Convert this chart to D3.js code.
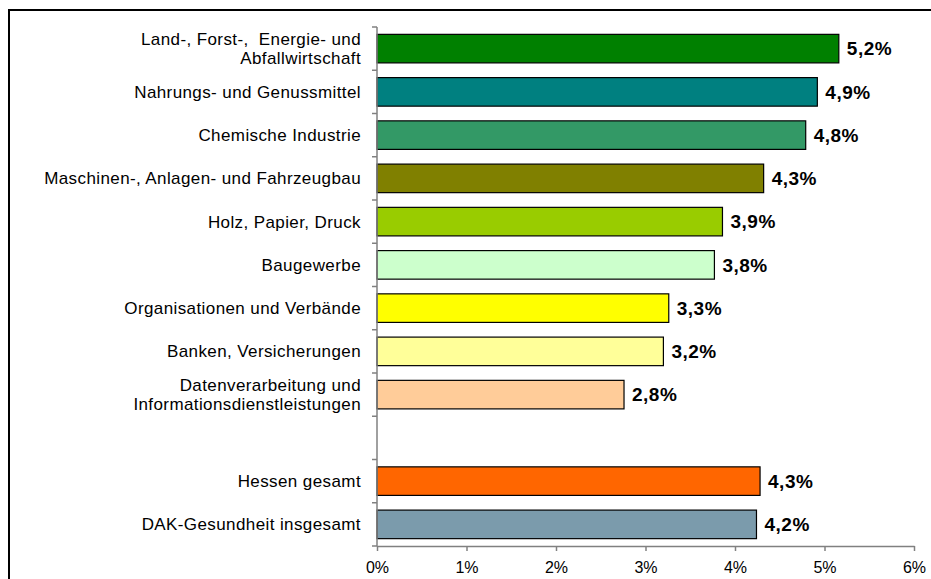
<!DOCTYPE html>
<html>
<head>
<meta charset="utf-8">
<script src="https://cdn.jsdelivr.net/npm/d3@7"></script>
<style>
  body { margin: 0; background: #fff; }
  svg { display: block; font-family: Arial, "Liberation Sans", sans-serif; }
</style>
</head>
<body>
<div id="chart"></div>
<script>
// Branchen, letzter Block: Hessen + DAK gesamt (leere Zeile dazwischen)
var categories = [
  "Land-, Forst-,  Energie- und\nAbfallwirtschaft",
  "Nahrungs- und Genussmittel",
  "Chemische Industrie",
  "Maschinen-, Anlagen- und Fahrzeugbau",
  "Holz, Papier, Druck",
  "Baugewerbe",
  "Organisationen und Verbände",
  "Banken, Versicherungen",
  "Datenverarbeitung und\nInformationsdienstleistungen",
  "",
  "Hessen gesamt",
  "DAK-Gesundheit insgesamt"
];
var values = [5.16, 4.92, 4.79, 4.32, 3.86, 3.77, 3.26, 3.2, 2.76, null, 4.28, 4.24];
var colors = ["#008000", "#008080", "#339966", "#808000", "#99cc00", "#ccffcc",
  "#ffff00", "#ffff99", "#ffcc99", "none", "#ff6600", "#7b9bac"];
var xTicks = [0, 1, 2, 3, 4, 5, 6];

var width = 931, height = 579;
var plotLeft = 377, plotRight = 914, plotTop = 27, plotBottom = 546;
var padInner = 0.34;

var rows = categories.map(function(c, i) {
  return { id: i, label: c, value: values[i], color: colors[i] };
});

var svg = d3.select("#chart").append("svg")
  .attr("width", width)
  .attr("height", height);

// Rahmen (rechts/unten abgeschnitten)
svg.append("rect")
  .attr("x", 9).attr("y", 10)
  .attr("width", 1000).attr("height", 1000)
  .attr("fill", "none")
  .attr("stroke", "#000")
  .attr("stroke-width", 2);

var x = d3.scaleLinear().domain([0, 6]).range([plotLeft, plotRight]);
var y = d3.scaleBand()
  .domain(rows.map(function(d) { return d.id; }))
  .range([plotTop, plotBottom])
  .paddingInner(padInner)
  .paddingOuter(padInner / 2);

var fmt = d3.formatLocale({ decimal: ",", thousands: ".", grouping: [3], currency: ["", "€"] }).format(".1f");

// Balken
var data = rows.filter(function(d) { return d.value != null; });
svg.append("g").attr("class", "bars")
  .selectAll("rect")
  .data(data)
  .enter()
  .append("rect")
  .attr("x", x(0))
  .attr("y", function(d) { return y(d.id); })
  .attr("width", function(d) { return x(d.value) - x(0); })
  .attr("height", y.bandwidth())
  .attr("fill", function(d) { return d.color; })
  .attr("stroke", "#000")
  .attr("stroke-width", 1.2);

// Werte
svg.append("g").attr("class", "values")
  .selectAll("text")
  .data(data)
  .enter()
  .append("text")
  .attr("x", function(d) { return x(d.value) + 8; })
  .attr("y", function(d) { return y(d.id) + y.bandwidth() / 2; })
  .attr("dy", "0.36em")
  .style("font-size", "19px")
  .style("letter-spacing", "0.5px")
  .style("font-weight", "bold")
  .text(function(d) { return fmt(d.value) + "%"; });

// x-Achse
var xAxis = d3.axisBottom(x)
  .tickValues(xTicks)
  .tickFormat(function(d) { return d + "%"; })
  .tickSize(5)
  .tickSizeOuter(0)
  .tickPadding(11);

var gx = svg.append("g")
  .attr("transform", "translate(0," + plotBottom + ")")
  .call(xAxis);
gx.select(".domain").attr("stroke", "#808080").attr("stroke-width", 1.5);
gx.selectAll(".tick line").attr("stroke", "#808080").attr("stroke-width", 1.5);
gx.selectAll(".tick text")
  .attr("fill", "#000")
  .style("font-size", "16px")
  .style("font-family", "Arial, 'Liberation Sans', sans-serif");

// y-Achse mit Strichen an den Kategoriegrenzen
var step = y.step();
var bounds = rows.map(function(d) { return y(d.id) - step * padInner / 2; });
bounds.push(plotBottom);

var gy = svg.append("g").attr("class", "y-axis");
gy.append("line")
  .attr("x1", x(0)).attr("x2", x(0))
  .attr("y1", plotTop).attr("y2", plotBottom)
  .attr("stroke", "#808080")
  .attr("stroke-width", 1.5);
gy.selectAll("line.tick")
  .data(bounds)
  .enter()
  .append("line")
  .attr("class", "tick")
  .attr("x1", x(0) - 5).attr("x2", x(0))
  .attr("y1", function(d) { return d; })
  .attr("y2", function(d) { return d; })
  .attr("stroke", "#808080")
  .attr("stroke-width", 1.5);

// Kategorienamen
var labels = svg.append("g").attr("class", "labels")
  .selectAll("text")
  .data(rows)
  .enter()
  .append("text")
  .attr("text-anchor", "end")
  .style("font-size", "17px")
  .style("letter-spacing", "0.4px")
  .style("white-space", "pre")
  .attr("fill", "#000");

labels.each(function(d) {
  var lines = d.label.split("\n");
  var cy = y(d.id) + y.bandwidth() / 2;
  var lh = 19;
  var t = d3.select(this);
  lines.forEach(function(line, i) {
    t.append("tspan")
      .attr("x", 361)
      .attr("y", cy + (i - (lines.length - 1) / 2) * lh)
      .attr("dy", "0.36em")
      .text(line);
  });
});
</script>
</body>
</html>
